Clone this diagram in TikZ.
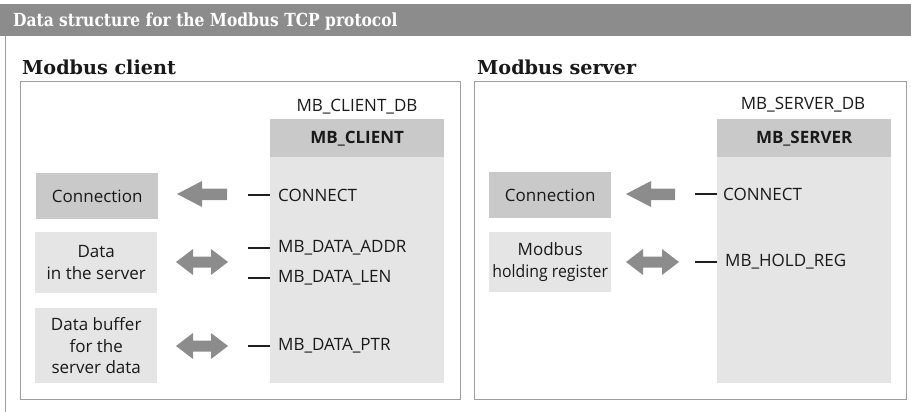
\documentclass[tikz,border=0pt]{standalone}
\usepackage{graphicx}
\usepackage{fontspec}
\setmainfont{DejaVu Serif}
\setsansfont{Open Sans}
\begin{document}
\begin{tikzpicture}[x=1pt,y=-1pt,
  frame/.style={draw=black!38,line width=0.9pt},
  darkbox/.style={fill=black!21,draw=none},
  lightbox/.style={fill=black!10,draw=none},
  txt/.style={font=\sffamily\fontsize{17}{21.5}\selectfont,text=black!90,inner sep=0pt},
  boxtxt/.style={txt,align=center},
  head/.style={font=\bfseries\fontsize{19.2}{22}\selectfont,text=black!90,inner sep=0pt,anchor=base west},
  arrowfill/.style={fill=black!45,draw=none},
  tick/.style={draw=black!88,line width=1.8pt}]
\useasboundingbox (0,0) rectangle (911,412);
% title bar
\fill[black!45] (0,4) rectangle (911,36);
\node[font=\bfseries\fontsize{18}{21}\selectfont,text=white,anchor=base west,inner sep=0pt] (title) at (13,27) {\scalebox{0.86}[1]{Data structure for the Modbus TCP protocol}};
\draw[frame] (5,36) -- (5,412);
% headings
\node[head] (hc) at (22,75) {Modbus client};
\node[head] (hs) at (477,75) {Modbus server};
% frames
\draw[frame] (20,81) rectangle (460,399);
\draw[frame] (474,81) rectangle (906,399);
% ---- client ----
\fill[lightbox] (270,157) rectangle (444,383);
\node[darkbox,minimum width=174,minimum height=38,inner sep=0pt,anchor=north west,font=\sffamily\bfseries\fontsize{17}{18}\selectfont,text=black!90] (cdb) at (270,119) {MB\_CLIENT};
\node[txt] (cdbn) at (357,107) {MB\_CLIENT\_DB};
\node[darkbox,boxtxt,minimum width=122,minimum height=46,anchor=north west] (cconn) at (36,173) {Connection};
\node[lightbox,boxtxt,minimum width=122,minimum height=61,anchor=north west] (cdata) at (35,232) {Data\\in the server};
\node[lightbox,boxtxt,minimum width=122,minimum height=75,anchor=north west] (cbuf) at (35,308) {Data buffer\\for the\\server data};
\node[txt,anchor=west] (pconn) at (278,195) {CONNECT};
\node[txt,anchor=west] (paddr) at (278,248) {MB\_DATA\_ADDR};
\node[txt,anchor=west] (plen) at (278,278) {MB\_DATA\_LEN};
\node[txt,anchor=west] (pptr) at (278,346) {MB\_DATA\_PTR};
\coordinate (t1) at (248,195); \draw[tick] (t1) -- (270,195);
\coordinate (t2) at (248,248); \draw[tick] (t2) -- (270,248);
\coordinate (t3) at (248,278); \draw[tick] (t3) -- (270,278);
\coordinate (t4) at (248,346); \draw[tick] (t4) -- (270,346);
% arrows client
\fill[arrowfill] (177,194) -- (202,181) -- (202,188.5) -- (227,188.5) -- (227,200) -- (202,200) -- (202,207) -- cycle;
\fill[arrowfill] (176,262) -- (193,249) -- (193,256.5) -- (211,256.5) -- (211,249) -- (228,262) -- (211,275) -- (211,267.5) -- (193,267.5) -- (193,275) -- cycle;
\fill[arrowfill] (176,346) -- (193,333) -- (193,340.5) -- (211,340.5) -- (211,333) -- (228,346) -- (211,359) -- (211,351.5) -- (193,351.5) -- (193,359) -- cycle;
% ---- server ----
\fill[lightbox] (717,157) rectangle (891,383);
\node[darkbox,minimum width=174,minimum height=38,inner sep=0pt,anchor=north west,font=\sffamily\bfseries\fontsize{17}{18}\selectfont,text=black!90] (sdb) at (717,119) {MB\_SERVER};
\node[txt] (sdbn) at (803,105) {MB\_SERVER\_DB};
\node[darkbox,boxtxt,minimum width=122,minimum height=46,anchor=north west] (sconn) at (489,172) {Connection};
\node[lightbox,boxtxt,minimum width=122,minimum height=60,anchor=north west] (shold) at (489,232) {Modbus\\\scalebox{0.93}[1]{holding register}};
\node[txt,anchor=west] (spconn) at (723,194) {CONNECT};
\node[txt,anchor=west] (sphold) at (725,262) {MB\_HOLD\_REG};
\coordinate (s1) at (695,194); \draw[tick] (s1) -- (717,194);
\coordinate (s2) at (695,262); \draw[tick] (s2) -- (717,262);
\fill[arrowfill] (626,194) -- (651,181) -- (651,188.5) -- (675,188.5) -- (675,200) -- (651,200) -- (651,207) -- cycle;
\fill[arrowfill] (626,262) -- (643,249) -- (643,256.5) -- (662,256.5) -- (662,249) -- (679,262) -- (662,275) -- (662,267.5) -- (643,267.5) -- (643,275) -- cycle;
\end{tikzpicture}
\end{document}
